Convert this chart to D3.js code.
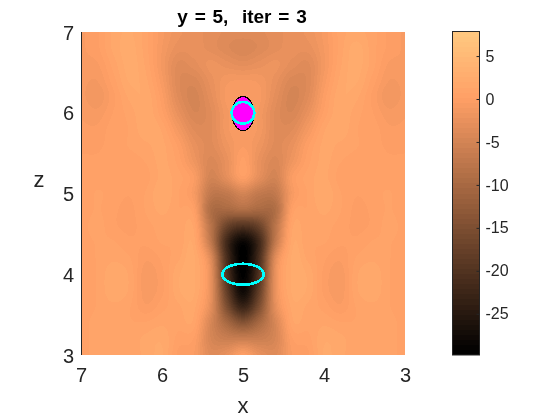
<!DOCTYPE html>
<html><head><meta charset="utf-8">
<script src="https://cdnjs.cloudflare.com/ajax/libs/d3/7.8.5/d3.min.js"></script>
<style>html,body{margin:0;padding:0;background:#fff}#w{position:relative;width:560px;height:420px;overflow:hidden}
canvas,svg{position:absolute;left:0;top:0}text{font-family:"Liberation Sans",Arial,sans-serif;fill:#262626}</style>
</head><body><div id="w"></div>
<script>
const title = "y = 5,  iter = 3";
const xTicks = [7,6,5,4,3];
const zTicks = [3,4,5,6,7];
const cTicks = [5,0,-5,-10,-15,-20,-25];
const cRange = [-29.8,7.8];
// field sampled every 0.2; rows z=7..3, columns x=7..3
const field = [
[-.5,0,1.5,2,1,-.8,-2,-2.5,-3,-3.5,-3.5,-3.5,-3,-2.5,-2,-.8,1,1.5,1,0,-.5],
[-.5,0,1.5,2.2,1,-1,-2.5,-2.5,-3,-3.8,-4.5,-3.8,-3,-2.5,-2.5,-1,1,2.2,1,0,-.5],
[-.5,-.5,1,2.2,1.2,-1.2,-3.5,-3,-2,-2.5,-3,-2.5,-2,-3,-3.5,-1.2,1.2,2.2,1,-.5,-.5],
[-.8,-1,.5,2,1.5,-.8,-3.8,-4.2,-2.5,-1.2,-1,-1.2,-2.5,-4.2,-3.8,-.8,1.5,2,.5,-1,-.8],
[-.8,-1.5,0,1.5,1.8,-.2,-3.5,-4.8,-3,-.8,-.5,-.8,-3,-4.8,-3.5,-.2,1.8,1.5,0,-1.5,-.8],
[-.5,-.8,.2,1,1.8,.3,-2.5,-4.5,-3.5,-1.2,-.5,-1.2,-3.5,-4.5,-2.5,.3,1.8,1,.2,-.8,-.5],
[-.3,-.3,.5,.8,1.8,1.2,-1.2,-3.5,-3.5,-1.2,-.5,-1.2,-3.5,-3.5,-1.2,1.2,1.8,.8,.5,-.3,-.3],
[0,0,.5,.8,1.2,1.5,0,-2.5,-3.5,-1.8,-.5,-1.8,-3.5,-2.5,0,1.5,1.2,.8,.5,0,0],
[.3,.3,.5,.5,.8,1.5,.5,-1.8,-4.2,-2.5,.3,-2.5,-4.2,-1.8,.5,1.5,.8,.5,.5,.3,.3],
[.5,.5,.5,.3,.5,1.5,1,-.5,-5,-3,0,-3,-5,-.5,1,1.5,.5,.3,.5,.5,.5],
[.3,.8,.5,.2,.8,1.8,.8,-1,-7,-7,-5,-7,-7,-1,.8,1.8,.8,.2,.5,.8,.3],
[.3,.8,.3,0,.8,1.5,.8,0,-9,-10,-9,-10,-9,0,.8,1.5,.8,0,.3,.8,.3],
[.5,1,.3,0,.5,1,.8,1,-8,-17,-20,-17,-8,1,.8,1,.5,0,.3,1,.5],
[.5,.8,.8,.3,.3,.8,.8,1.5,-7,-22,-28.5,-22,-7,1.5,.8,.8,.3,.3,.8,.8,.5],
[.3,.8,1.2,.8,-.3,.3,1.2,2,-3.5,-21,-29.8,-21,-3.5,2,1.2,.3,-.3,.8,1.2,.8,.3],
[.3,.8,1.8,1.2,-.8,0,1.8,2,-2.5,-20,-29.5,-20,-2.5,2,1.8,0,-.8,1.2,1.8,.8,.3],
[.3,.8,1.8,1.2,-.8,0,1.8,2,-2.5,-18,-28,-18,-2.5,2,1.8,0,-.8,1.2,1.8,.8,.3],
[.3,.8,1.2,.8,-.3,.5,1.2,1.5,-3,-15,-23,-15,-3,1.5,1.2,.5,-.3,.8,1.2,.8,.3],
[.5,1,1,.8,.8,1.2,1,1,-4.5,-10,-14,-10,-4.5,1,1,1.2,.8,.8,1,1,.5],
[.5,1,1,1,1.5,1.8,.5,0,-4.5,-6,-6,-6,-4.5,0,.5,1.8,1.5,1,1,1,.5],
[.5,1,1,1,1.5,2,0,-.5,-3.5,-2.5,0,-2.5,-3.5,-.5,0,2,1.5,1,1,1,.5]
];
// ellipses: centre x, centre z, semi-axis x, semi-axis z
const magentaEgg = [5,5.99,.137,.21];
const magentaDot = [5,6,.12,.12];
const cyanRings = [[5,6,.14,.135],[5,4,.255,.13]];

const plot = {l:81,r:405,t:32,b:355}, bar = {l:452,r:480,t:32,b:355};
const x = d3.scaleLinear().domain([7,3]).range([plot.l,plot.r]);
const z = d3.scaleLinear().domain([3,7]).range([plot.b,plot.t]);
const cy = d3.scaleLinear().domain(cRange).range([bar.b,bar.t]);

function copper(v){
  let t=(v-cRange[0])/(cRange[1]-cRange[0]);
  t=Math.max(0,Math.min(1,Math.floor(t*64)/63));
  return [Math.min(1,1.25*t)*255,.7812*t*255,.4975*t*255];
}
function cr(a,b,c,d,t){return b+.5*t*(c-a+t*(2*a-5*b+4*c-d+t*(3*(b-c)+d-a)));}
function sample(px,pz){
  const n=field.length-1,fx=(7-px)/.2,fz=(7-pz)/.2;
  const i=Math.min(n-1,Math.floor(fx)),j=Math.min(n-1,Math.floor(fz)),u=fx-i,w=fz-j;
  const cl=k=>Math.max(0,Math.min(n,k)),row=[];
  for(let b=-1;b<3;b++){const R=field[cl(j+b)];
    row.push(cr(R[cl(i-1)],R[cl(i)],R[cl(i+1)],R[cl(i+2)],u));}
  return cr(row[0],row[1],row[2],row[3],w);
}
const W=d3.select("#w");
const cv=W.append("canvas").attr("width",560).attr("height",420).node();
const ctx=cv.getContext("2d");
const img=ctx.createImageData(plot.r-plot.l,plot.b-plot.t);
for(let py=0;py<img.height;py++)for(let px=0;px<img.width;px++){
  const c=copper(sample(x.invert(plot.l+px+.5),z.invert(plot.t+py+.5)));
  const k=4*(py*img.width+px);img.data[k]=c[0];img.data[k+1]=c[1];img.data[k+2]=c[2];img.data[k+3]=255;
}
ctx.putImageData(img,plot.l,plot.t);
for(let py=bar.t;py<bar.b;py++){
  const c=copper(cy.invert(py+.5));ctx.fillStyle=`rgb(${c[0]},${c[1]},${c[2]})`;ctx.fillRect(bar.l,py,bar.r-bar.l,1);
}
const svg=W.append("svg").attr("width",560).attr("height",420);
const ell=(d,fill,stroke,sw)=>svg.append("ellipse").attr("cx",x(d[0])).attr("cy",z(d[1]))
  .attr("rx",x(d[0]-d[2])-x(d[0])).attr("ry",z(d[1])-z(d[1]+d[3]))
  .attr("fill",fill).attr("stroke",stroke).attr("stroke-width",sw).attr("shape-rendering","crispEdges");
ell(magentaEgg,"#ff00ff","#000",1);
ell(magentaDot,"#ff00ff","none",0);
cyanRings.forEach(d=>ell(d,"none","#00ffff",2.6));

function style(g,size){
  g.selectAll("text").style("font-size",size+"px").attr("fill","#262626");
  g.selectAll("path,line").attr("stroke","#262626");
}
const gx=svg.append("g").attr("transform",`translate(0,${plot.b})`).call(d3.axisBottom(x).tickValues(xTicks).tickFormat(d3.format("d")).tickSize(0).tickPadding(13));
gx.select("path").remove();style(gx,20);
const gz=svg.append("g").attr("transform",`translate(${plot.l},0)`).call(d3.axisLeft(z).tickValues(zTicks).tickFormat(d3.format("d")).tickSize(0).tickPadding(7));
gz.select("path").remove();style(gz,20);
gz.selectAll("text").attr("dy","0.36em");
svg.append("line").attr("x1",plot.l+.5).attr("x2",plot.l+.5).attr("y1",plot.t).attr("y2",plot.b).attr("stroke","#262626").attr("stroke-width",1);

svg.append("rect").attr("x",bar.l+.5).attr("y",bar.t-.5).attr("width",bar.r-bar.l-1).attr("height",bar.b-bar.t+.5).attr("fill","none").attr("stroke","#262626");
const gc=svg.append("g").attr("transform",`translate(${bar.r-.5},0)`).call(d3.axisRight(cy).tickValues(cTicks).tickFormat(d=>d3.format("d")(d).replace("−","-")).tickSizeInner(-3).tickSizeOuter(0).tickPadding(6));
gc.select("path").remove();style(gc,16);

svg.append("text").attr("x",242).attr("y",23).attr("text-anchor","middle").attr("xml:space","preserve").style("white-space","pre").style("font-size","19px").style("word-spacing","1.5px").style("font-weight","bold").style("fill","#000").text(title);
svg.append("text").attr("x",243).attr("y",413).attr("text-anchor","middle").style("font-size","22px").text("x");
svg.append("text").attr("x",39).attr("y",187).attr("text-anchor","middle").style("font-size","22px").text("z");
</script></body></html>
